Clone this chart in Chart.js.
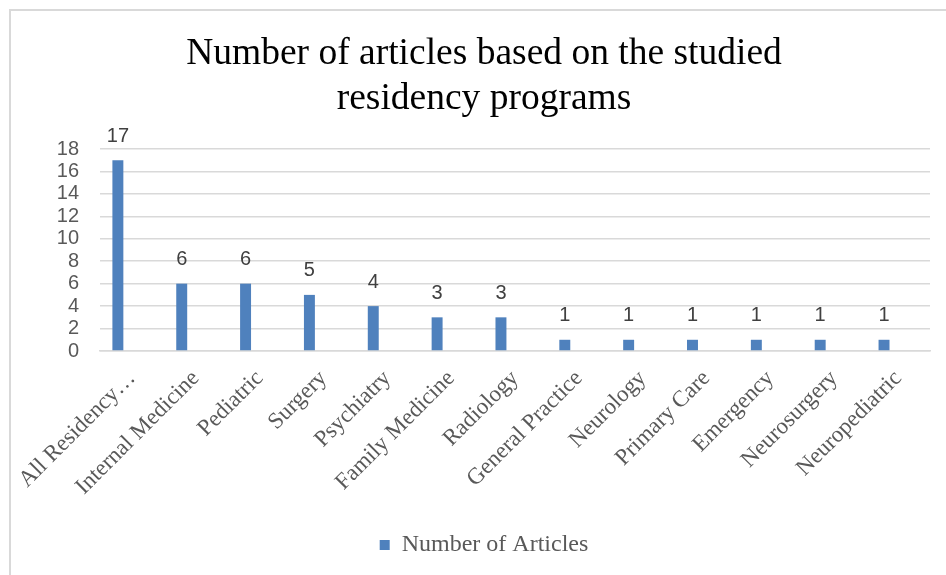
<!DOCTYPE html>
<html>
<head>
<meta charset="utf-8">
<script src="https://cdn.jsdelivr.net/npm/chart.js@4.4.1/dist/chart.umd.min.js"></script>
<style>
  html, body { margin: 0; padding: 0; background: #fff; }
  #wrap { position: relative; width: 946px; height: 575px; overflow: hidden; }
  #frame { position: absolute; left: 9px; top: 9px; width: 960px; height: 600px; border: 2px solid #d9d9d9; box-sizing: border-box; }
  canvas { position: absolute; left: 0; top: 0; }
</style>
</head>
<body>
<div id="wrap">
  <div id="frame"></div>
  <canvas id="chart" width="946" height="575"></canvas>
</div>
<script>
const PROGRAMS = [
    'All Residency…', 'Internal Medicine', 'Pediatric', 'Surgery', 'Psychiatry',
    'Family Medicine', 'Radiology', 'General Practice', 'Neurology', 'Primary Care',
    'Emergency', 'Neurosurgery', 'Neuropediatric',
];
const ARTICLES = [17, 6, 6, 5, 4, 3, 3, 1, 1, 1, 1, 1, 1];
const Y_TICKS  = [0, 2, 4, 6, 8, 10, 12, 14, 16, 18];

const BAR_COLOR  = '#4f81bd';
const GRID_COLOR = '#d9d9d9';
const TEXT_COLOR = '#595959';
const SERIF = "'Liberation Serif', 'Times New Roman', serif";
const SANS  = "'Liberation Sans', Arial, sans-serif";

// values drawn above each bar of the first series
const barValueLabels = {
    id: 'barValueLabels',
    afterDatasetsDraw(chart) {
        const ctx = chart.ctx;
        const meta = chart.getDatasetMeta(0);
        ctx.save();
        ctx.font = `20px ${SANS}`;
        ctx.fillStyle = '#404040';
        ctx.textAlign = 'center';
        ctx.textBaseline = 'bottom';
        meta.data.forEach((bar, i) => {
            ctx.fillText(String(ARTICLES[i]), bar.x, bar.y - 14);
        });
        ctx.restore();
    },
};

new Chart(document.getElementById('chart').getContext('2d'), {
    type: 'bar',
    data: {
        labels: PROGRAMS,
        datasets: [
            { label: 'Number of Articles', data: ARTICLES, backgroundColor: BAR_COLOR },
            { label: '', data: PROGRAMS.map(() => null), backgroundColor: 'transparent' },
        ],
    },
    options: {
        responsive: false,
        animation: false,
        devicePixelRatio: 1,
        categoryPercentage: 0.88,
        barPercentage: 0.39,
        // the frame is shifted right, so title and legend centre near x=484
        layout: { padding: { left: 22, right: 0, top: 0, bottom: 8 } },
        plugins: {
            tooltip: { enabled: false },
            title: {
                display: true,
                text: ['Number of articles based on the studied', 'residency programs'],
                color: '#000',
                font: { family: SERIF, size: 37.5, weight: 'normal', lineHeight: 1.2 },
                padding: { top: 32, bottom: 27 },
            },
            legend: {
                position: 'bottom',
                labels: {
                    color: TEXT_COLOR,
                    font: { family: SERIF, size: 24 },
                    boxWidth: 10,
                    boxHeight: 10,
                    padding: 10,
                    filter: item => item.datasetIndex === 0,
                },
            },
        },
        scales: {
            x: {
                grid: { display: false },
                border: { color: GRID_COLOR, width: 1.5 },
                ticks: {
                    color: TEXT_COLOR,
                    font: { family: SERIF, size: 23 },
                    maxRotation: 45,
                    minRotation: 45,
                    autoSkip: false,
                    padding: 6,
                },
                afterFit: scale => { scale.height = 172; },
            },
            y: {
                min: 0,
                max: 18,
                grid: { color: GRID_COLOR, lineWidth: 1.5, drawTicks: false },
                border: { display: false },
                afterBuildTicks: scale => { scale.ticks = Y_TICKS.map(v => ({ value: v })); },
                ticks: {
                    color: TEXT_COLOR,
                    font: { family: SANS, size: 20 },
                    autoSkip: false,
                    padding: 21,
                },
                afterFit: scale => { scale.width = 78; },
            },
            // empty spacer on the right of the plot
            yRight: {
                position: 'right',
                grid: { display: false },
                border: { display: false },
                ticks: { display: false },
                afterFit: scale => { scale.width = 16; },
            },
        },
    },
    plugins: [barValueLabels],
});
</script>
</body>
</html>
